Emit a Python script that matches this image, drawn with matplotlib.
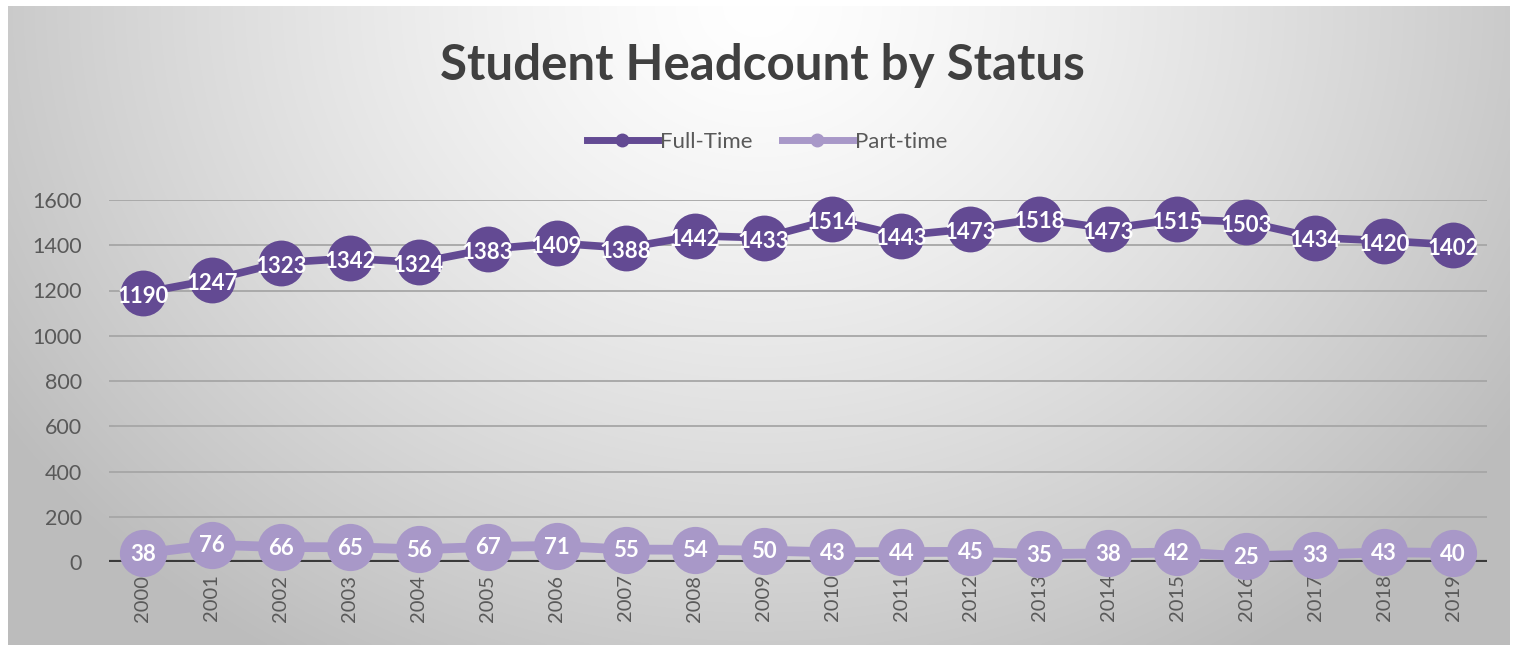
import numpy as np
import matplotlib
matplotlib.use("Agg")
import matplotlib.pyplot as plt
from matplotlib.lines import Line2D

years = [str(y) for y in range(2000, 2020)]
full_time = [1190, 1247, 1323, 1342, 1324, 1383, 1409, 1388, 1442, 1433,
             1514, 1443, 1473, 1518, 1473, 1515, 1503, 1434, 1420, 1402]
part_time = [38, 76, 66, 65, 56, 67, 71, 55, 54, 50,
             43, 44, 45, 35, 38, 42, 25, 33, 43, 40]
yticks = [0, 200, 400, 600, 800, 1000, 1200, 1400, 1600]

FT_COLOR = "#634A93"
PT_COLOR = "#A898C8"
FONT = "Lato"

W, H = 1517, 650
fig = plt.figure(figsize=(W / 100, H / 100), dpi=100)
fig.patch.set_facecolor("white")

# Background radial gradient panel
bg = fig.add_axes([8 / W, 5 / H, (W - 15) / W, (H - 11) / H], zorder=-10)
gx = np.linspace(0, 1, 600)
gy = np.linspace(0, 1, 300)
X, Y = np.meshgrid(gx, gy)
R = np.sqrt(((X - 0.5) / 0.6) ** 2 + ((Y - 0.0) / 1.2) ** 2)
R = np.clip(R, 0, 1)
val = 1.0 - 0.26 * R ** 1.3
img = np.dstack([val, val, val])
bg.imshow(img, extent=[0, 1, 0, 1], aspect="auto", origin="upper", interpolation="bilinear")
bg.axis("off")

ax = fig.add_axes([108.5 / W, 88 / H, 1379 / W, 362 / H])
ax.patch.set_alpha(0)
x = np.arange(len(years))
ax.set_xlim(-0.5, len(years) - 0.5)
ax.set_ylim(0, 1600)
ax.set_yticks(yticks)
ax.set_yticklabels([str(v) for v in yticks])
ax.set_xticks(x)
ax.set_xticklabels(years, rotation=90)
for s in ax.spines.values():
    s.set_visible(False)
ax.tick_params(length=0, labelcolor="#595959")
ax.tick_params(axis="y", pad=19, labelsize=15.5)
ax.tick_params(axis="x", pad=9, labelsize=14.5)
for lab in ax.get_xticklabels() + ax.get_yticklabels():
    lab.set_fontfamily(FONT)
for v in yticks[1:]:
    ax.axhline(v, color="#A6A6A6", lw=1.3, zorder=1)
ax.axhline(0, color="#3A3A3A", lw=3, zorder=1)

ax.plot(x, full_time, color=FT_COLOR, lw=5.5, marker="o", ms=33,
        markeredgewidth=0, zorder=3, clip_on=False)
ax.plot(x, part_time, color=PT_COLOR, lw=7, marker="o", ms=34,
        markeredgewidth=0, zorder=3, clip_on=False)
for xi, v in zip(x, full_time):
    ax.text(xi, v - 15, str(v), color="white", fontsize=16, fontweight="bold",
            ha="center", va="center", family=FONT, zorder=4)
for xi, v in zip(x, part_time):
    ax.text(xi, v - 5, str(v), color="white", fontsize=16, fontweight="bold",
            ha="center", va="center", family=FONT, zorder=4)

fig.text(762 / W, 1 - 66 / H, "Student Headcount by Status", ha="center", va="center",
         fontsize=35.5, fontweight="bold", color="#404040", family=FONT)

handles = [Line2D([], [], color=FT_COLOR, lw=5, marker="o", ms=9),
           Line2D([], [], color=PT_COLOR, lw=5, marker="o", ms=9)]
fig.legend(handles, ["Full-Time", "Part-time"], loc="center",
           bbox_to_anchor=(767 / W, 1 - 142 / H), ncol=2, frameon=False,
           prop={"family": FONT, "size": 16}, labelcolor="#595959",
           handlelength=3.2, handletextpad=0.1, columnspacing=1.3)

fig.savefig("out.png", dpi=100)
